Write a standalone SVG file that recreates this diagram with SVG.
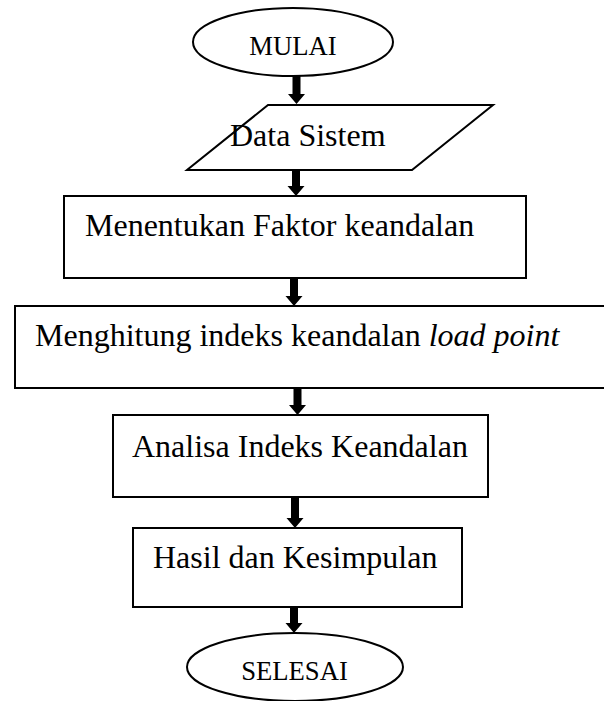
<svg xmlns="http://www.w3.org/2000/svg" width="604" height="701" viewBox="0 0 604 701">
<style>
.shape{fill:#fff;stroke:#000;stroke-width:2}
.t{font-family:"Liberation Serif","Times New Roman",serif;font-size:32px;fill:#000}
.s{font-family:"Liberation Serif","Times New Roman",serif;font-size:26.67px;fill:#000}
.arr{fill:#000;stroke:none}
</style>
<rect width="604" height="701" fill="#fff"/>
<g id="connectors">
<path class="arr" d="M292.5,76 L300.5,76 L300.5,94 L305,94 L296.5,104 L288,94 L292.5,94 Z"/>
<path class="arr" d="M292,170 L300,170 L300,186 L304.5,186 L296,196 L287.5,186 L292,186 Z"/>
<path class="arr" d="M290,278 L298,278 L298,296 L302.5,296 L294,306 L285.5,296 L290,296 Z"/>
<path class="arr" d="M293.5,388 L301.5,388 L301.5,405 L306,405 L297.5,415 L289,405 L293.5,405 Z"/>
<path class="arr" d="M291,497 L299,497 L299,518 L303.5,518 L295,528 L286.5,518 L291,518 Z"/>
<path class="arr" d="M290,607 L298,607 L298,623 L302.5,623 L294,633 L285.5,623 L290,623 Z"/>
</g>
<g id="mulai">
<ellipse class="shape" cx="293" cy="42" rx="100" ry="34"/>
<text class="s" x="293" y="55" text-anchor="middle">MULAI</text>
</g>
<g id="data-sistem">
<polygon class="shape" points="268,105 493,105 412,170 187,170"/>
<text class="t" x="230" y="146">Data Sistem</text>
</g>
<g id="menentukan">
<rect class="shape" x="64" y="196" width="462" height="82"/>
<text class="t" x="85" y="236">Menentukan Faktor keandalan</text>
</g>
<g id="menghitung">
<rect class="shape" x="15" y="306" width="600" height="82"/>
<text class="t" x="35" y="346">Menghitung indeks keandalan <tspan font-style="italic">load point</tspan></text>
</g>
<g id="analisa">
<rect class="shape" x="113" y="415" width="375" height="82"/>
<text class="t" x="132" y="457">Analisa Indeks Keandalan</text>
</g>
<g id="hasil">
<rect class="shape" x="133" y="528" width="329" height="79"/>
<text class="t" x="153" y="568">Hasil dan Kesimpulan</text>
</g>
<g id="selesai">
<ellipse class="shape" cx="295" cy="667" rx="108" ry="34"/>
<text class="s" x="294.5" y="680" text-anchor="middle">SELESAI</text>
</g>
</svg>
